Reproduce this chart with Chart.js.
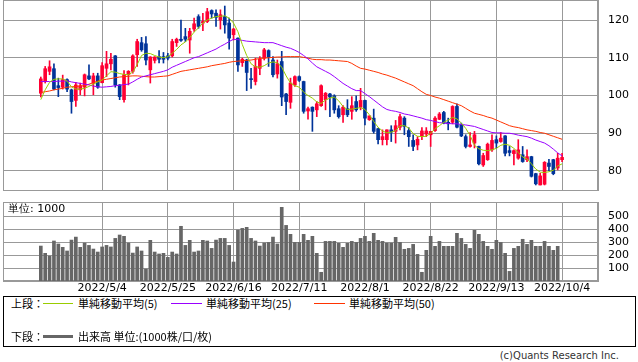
<!DOCTYPE html>
<html>
<head>
<meta charset="utf-8">
<script src="https://cdn.jsdelivr.net/npm/chart.js@4.4.0/dist/chart.umd.min.js"></script>
<style>
  body { margin: 0; background: #fff; width: 638px; height: 362px; position: relative; overflow: hidden; }
  canvas { position: absolute; left: 0; }
  #priceChart { top: 0; }
  #volumeChart { top: 195px; }
  .txt { position: absolute; font-family: "Noto Sans CJK JP", sans-serif; font-size: 11px; line-height: 14px; color: #000; white-space: nowrap; }
  .mark { position: absolute; }
  #legendBox { position: absolute; left: 3px; top: 296px; width: 631px; height: 49px; border: 1px solid #000; }
  #copy { position: absolute; right: 19px; top: 349px; font-family: "DejaVu Sans", sans-serif; font-size: 10px; line-height: 14px; color: #333; }
</style>
</head>
<body>
<canvas id="priceChart" width="638" height="191"></canvas>
<canvas id="volumeChart" width="638" height="100"></canvas>

<div class="txt" style="left:8px; top:202px; font-family:'DejaVu Sans', sans-serif;">単位: 1000</div>

<div id="legendBox"></div>
<div class="txt" style="left:11px; top:296px;">上段：</div>
<div class="mark" style="left:43px; top:303px; width:30px; height:1px; background:#99cc00;"></div>
<div class="txt" style="left:78px; top:296px;">単純移動平均(5)</div>
<div class="mark" style="left:171px; top:303px; width:31px; height:1px; background:#9900ff;"></div>
<div class="txt" style="left:206px; top:296px;">単純移動平均(25)</div>
<div class="mark" style="left:314px; top:303px; width:31px; height:1px; background:#ff3300;"></div>
<div class="txt" style="left:349px; top:296px;">単純移動平均(50)</div>
<div class="txt" style="left:11px; top:329px;">下段：</div>
<div class="mark" style="left:43px; top:335px; width:30px; height:3px; background:#666;"></div>
<div class="txt" style="left:78px; top:329px;">出来高 単位:(1000株/口/枚)</div>
<div id="copy">(c)Quants Research Inc.</div>

<script>
// 4本値 (左から古い順)
const opens = [100.6,103.7,106.4,107.1,102.6,102.2,104.2,101.5,98.7,101.5,
  102.2,105.2,103.3,105.2,103.4,107.2,108.4,110.5,102.8,98.9,
  105.5,106.4,110.8,114.0,113.7,106.8,109.3,110.3,110.3,110.5,
  110.5,114.0,114.9,115.6,114.7,117.6,120.9,119.2,119.6,122.5,
  121.8,120.0,120.9,119.2,116.1,115.2,108.7,109.4,104.4,103.7,
  107.2,109.9,111.9,109.4,105.7,109.0,100.4,98.2,102.8,105.0,
  103.7,95.9,96.9,96.2,97.3,98.9,100.4,99.9,96.5,94.9,
  96.5,95.8,98.4,96.9,98.7,93.6,94.0,91.2,88.3,88.3,
  90.9,90.5,91.6,94.0,90.7,88.1,86.9,89.3,89.8,89.6,
  90.7,93.7,95.5,92.9,92.9,97.1,92.2,89.1,86.5,87.4,
  86.5,81.6,83.0,85.6,88.3,87.8,89.3,85.4,84.6,83.4,
  84.3,83.0,83.8,79.3,76.3,76.5,82.1,83.0,80.8,83.0];
const highs = [104.9,107.7,109.2,108.4,104.6,105.4,104.4,101.7,103.5,103.3,
  105.7,108.1,105.9,105.9,108.7,111.7,111.2,110.6,102.9,106.6,
  106.6,110.8,114.9,115.4,115.6,110.3,110.3,111.9,111.4,111.2,
  114.9,115.2,120.0,117.8,117.8,120.5,121.4,121.8,123.1,122.7,
  122.7,122.7,123.7,120.5,117.8,115.3,109.9,109.6,107.2,109.9,
  110.3,112.5,112.1,110.3,109.4,111.7,100.6,104.6,105.2,105.2,
  103.8,96.9,97.0,98.4,102.8,100.8,100.6,100.2,97.3,97.3,
  98.9,99.7,99.9,101.9,98.8,94.6,96.4,91.4,90.9,90.9,
  92.0,93.4,95.1,94.4,91.5,89.6,89.1,91.5,91.5,90.5,
  94.4,95.5,95.8,94.0,97.3,97.8,92.7,89.6,90.2,90.5,
  86.6,84.7,87.4,89.6,89.3,90.2,89.4,86.5,85.6,88.3,
  86.5,85.6,83.9,79.4,79.4,82.5,83.1,83.1,84.7,84.7];
const lows = [99.6,103.3,105.5,101.5,99.7,101.7,101.0,95.3,97.1,100.2,
  99.9,104.2,100.2,101.9,103.3,105.0,106.8,102.2,98.9,98.2,
  102.8,105.9,107.7,111.7,108.1,103.3,108.6,108.6,108.6,109.4,
  110.2,113.0,114.3,114.3,111.2,117.0,117.8,117.2,119.3,120.5,
  118.3,117.6,116.5,112.3,114.7,106.4,107.7,101.3,101.9,102.8,
  105.5,109.4,107.7,104.9,104.6,97.3,94.9,96.6,102.4,103.7,
  95.3,93.7,90.5,94.4,97.1,96.2,94.4,95.3,94.0,92.9,
  94.4,93.7,95.8,96.2,92.2,93.4,90.0,87.2,86.9,86.9,
  87.8,87.4,90.9,89.6,86.5,85.4,85.6,88.3,89.1,86.5,
  90.5,93.6,92.5,90.9,92.5,91.4,89.1,86.1,86.3,86.1,
  81.6,81.2,82.8,85.2,86.1,87.6,84.0,84.0,81.6,83.1,
  82.3,82.5,78.4,76.3,76.3,76.3,80.1,79.0,80.3,82.5];
const closes = [104.4,107.1,107.6,101.7,102.1,104.2,101.7,98.4,102.8,102.6,
  105.5,104.4,105.2,102.2,107.9,108.4,109.6,102.8,99.7,105.5,
  106.4,110.5,114.3,112.1,109.4,110.2,110.2,109.6,109.6,109.9,
  114.3,114.9,114.6,114.9,117.0,119.0,118.3,119.6,122.2,121.6,
  120.7,121.4,118.7,115.2,117.6,108.1,109.6,106.1,104.2,107.7,
  109.6,112.1,110.2,105.5,108.4,99.6,98.4,103.3,105.0,104.0,
  95.8,96.5,95.8,97.8,102.6,100.6,99.6,96.2,94.4,96.9,
  94.9,97.3,96.2,98.7,94.0,94.6,90.5,88.3,89.1,90.9,
  90.3,92.0,94.4,91.8,89.1,86.5,88.4,90.6,90.6,90.5,
  94.0,95.1,92.7,92.5,97.1,91.6,89.3,86.5,86.9,89.6,
  81.9,84.1,87.1,88.1,87.4,88.7,84.7,84.9,85.4,85.6,
  82.5,83.8,78.6,76.6,78.7,82.3,81.2,79.3,83.4,83.6];

// 単純移動平均
const ma5 = [98.9,101.5,103.5,104.3,104.4,104.4,103.8,102.3,101.7,101.7,
  101.9,102.4,103.0,103.6,104.1,105.2,106.3,106.2,105.8,105.6,
  105.5,106.2,108.2,110.6,111.2,111.1,110.6,110.2,110.0,110.3,
  111.2,112.2,113.4,114.2,115.3,116.8,117.9,119.2,120.0,120.5,
  120.9,121.0,121.1,120.5,119.2,116.9,113.5,110.6,108.4,107.6,
  107.5,107.9,108.6,108.9,108.7,107.5,105.2,103.3,102.6,102.2,
  100.9,100.0,99.3,98.3,97.9,98.8,99.3,99.6,98.6,97.1,
  96.3,96.4,96.6,96.8,96.3,94.9,93.1,91.6,90.6,90.1,
  90.3,90.7,92.0,92.0,91.4,89.9,89.2,89.1,89.2,90.0,
  91.2,92.0,92.9,93.5,94.2,93.8,92.7,91.3,89.4,86.8,
  85.9,85.5,85.4,85.6,86.0,86.8,87.1,86.8,86.0,84.9,
  83.7,83.2,81.9,80.5,79.7,79.6,79.8,80.2,81.3,81.9];
const ma25 = [103.7,103.7,103.7,103.7,103.8,103.8,103.9,103.6,103.4,103.2,
  103.0,102.8,102.5,102.3,102.2,102.3,102.4,102.6,102.7,102.9,
  103.0,103.6,104.3,104.9,105.2,105.5,105.8,106.1,106.4,106.8,
  107.5,108.0,108.5,109.0,109.5,110.0,110.3,110.8,111.3,111.8,
  112.3,113.0,113.6,114.3,114.9,114.8,114.6,114.4,114.3,114.2,
  114.1,114.0,114.0,114.0,113.6,113.2,112.8,112.5,112.0,111.4,
  110.6,109.7,108.6,107.6,107.0,106.4,105.8,105.0,104.1,103.2,
  102.5,101.8,101.3,101.3,100.5,99.7,98.8,97.9,97.0,96.3,
  96.0,95.8,95.5,95.1,94.9,94.6,94.3,94.0,93.6,93.4,
  93.1,92.8,92.7,92.6,92.5,92.5,92.3,92.2,92.0,91.8,
  91.4,91.0,90.6,90.2,90.1,90.1,90.0,90.0,89.8,89.5,
  89.3,89.1,88.7,88.2,87.8,87.4,86.7,85.8,84.8,84.0];
const ma50 = [100.8,101.0,101.2,101.5,101.7,101.9,102.2,102.3,102.4,102.5,
  102.6,103.0,103.4,103.8,104.1,104.3,104.5,104.7,104.9,105.0,
  105.1,105.2,105.2,105.1,105.0,104.9,104.9,105.0,105.1,105.2,
  105.6,106.0,106.4,106.6,106.8,107.0,107.2,107.4,107.6,107.9,
  108.1,108.3,108.5,108.8,109.0,109.1,109.2,109.3,109.4,109.6,
  109.8,109.9,110.0,110.1,110.2,110.2,110.3,110.3,110.3,110.3,
  110.1,109.9,109.6,109.5,109.5,109.4,109.4,109.3,109.2,109.1,
  109.0,108.5,107.8,107.2,107.0,106.7,106.4,106.1,105.7,105.4,
  105.0,104.6,104.1,103.6,103.1,102.6,101.8,101.0,100.3,100.0,
  99.6,99.3,98.9,98.5,98.1,97.7,97.3,96.6,95.9,95.3,
  95.0,94.7,94.3,94.0,93.5,93.0,92.5,92.0,91.7,91.5,
  91.2,90.9,90.7,90.5,90.2,90.0,89.6,89.2,88.8,88.4];

// 出来高 (1000株) 最終日は出来高なし
const volumes = [269,213,192,308,285,259,231,315,338,259,
  292,274,246,223,262,274,262,328,354,344,
  292,215,262,231,92,313,223,208,213,182,
  223,208,421,274,313,223,231,313,308,251,
  315,328,328,274,146,392,405,413,328,308,
  269,292,297,338,285,567,428,359,297,297,
  359,313,344,213,67,305,305,305,290,259,
  290,305,297,328,344,305,367,313,305,292,
  292,336,297,244,251,282,205,67,236,344,
  267,305,267,267,267,367,328,282,251,390,
  359,305,267,244,313,297,213,74,251,267,
  321,282,313,267,267,305,267,236,267];

const dateLabels = ['2022/5/4', '2022/5/25', '2022/6/16', '2022/7/11', '2022/8/1', '2022/8/22', '2022/9/13', '2022/10/4'];
const dateIndex = [14, 29, 44, 59, 74, 89, 104, 119];
const priceTicks = [80, 90, 100, 110, 120];
const volumeTicks = [100, 200, 300, 400, 500];

const UP = '#ff0033';
const DOWN = '#003399';
const GRID = '#999999';
const X_MIN = -8.63;
const X_MAX = 127.2;

const candleColors = closes.map((c, i) => c >= opens[i] ? UP : DOWN);
const wickData = highs.map((h, i) => ({ x: i, y: [lows[i], h] }));
const bodyData = closes.map((c, i) => ({ x: i, y: [opens[i], c] }));
const linePoints = arr => arr.map((v, i) => ({ x: i, y: v }));

// 枠線
const framePlugin = {
  id: 'frame',
  beforeDatasetsDraw(chart) {
    const { ctx, chartArea: a } = chart;
    ctx.save();
    ctx.strokeStyle = GRID;
    ctx.lineWidth = 1;
    ctx.strokeRect(Math.round(a.left) + 0.5, Math.round(a.top) + 0.5,
      Math.round(a.right - a.left) - 1, Math.round(a.bottom - a.top) - 1);
    ctx.restore();
  }
};

const tickFont = { family: 'DejaVu Sans', size: 11 };

function xScale(showLabels) {
  return {
    type: 'linear',
    min: X_MIN,
    max: X_MAX,
    offset: false,
    afterBuildTicks: s => { s.ticks = dateIndex.map(v => ({ value: v })); },
    afterFit: s => {
      s.height = showLabels ? 14 : 0;
      s.paddingLeft = 0;
      s.paddingRight = 0;
    },
    ticks: {
      display: showLabels,
      maxRotation: 0,
      autoSkip: false,
      padding: 1,
      color: '#000',
      font: tickFont,
      callback: (v) => dateLabels[dateIndex.indexOf(v)]
    },
    grid: { color: GRID, drawTicks: false, offset: false },
    border: { color: GRID }
  };
}

function yScale(min, max, ticks) {
  return {
    position: 'right',
    min: min,
    max: max,
    afterBuildTicks: s => { s.ticks = ticks.map(v => ({ value: v })); },
    afterFit: s => {
      s.width = 40;
      s.paddingTop = 0;
      s.paddingBottom = 0;
    },
    ticks: { padding: 10, color: '#000', font: tickFont },
    grid: { color: GRID, drawTicks: false },
    border: { color: GRID }
  };
}

new Chart(document.getElementById('priceChart'), {
  data: {
    datasets: [
      { type: 'line', data: linePoints(ma5), borderColor: '#99cc00', borderWidth: 1, pointRadius: 0, order: 0 },
      { type: 'line', data: linePoints(ma25), borderColor: '#9900ff', borderWidth: 1, pointRadius: 0, order: 0 },
      { type: 'line', data: linePoints(ma50), borderColor: '#ff3300', borderWidth: 1, pointRadius: 0, order: 0 },
      { type: 'bar', data: bodyData, backgroundColor: candleColors, barThickness: 3, minBarLength: 1, grouped: false, order: 1 },
      { type: 'bar', data: wickData, backgroundColor: candleColors, barThickness: 1, grouped: false, order: 2 }
    ]
  },
  options: {
    responsive: false,
    animation: false,
    layout: { padding: { left: 3, top: 0, right: 0, bottom: 0 } },
    plugins: { legend: { display: false }, tooltip: { enabled: false } },
    scales: {
      x: xScale(false),
      y: yScale(74.7, 125.3, priceTicks)
    }
  },
  plugins: [framePlugin]
});

new Chart(document.getElementById('volumeChart'), {
  type: 'bar',
  data: {
    datasets: [{
      data: volumes.map((v, i) => ({ x: i, y: v })),
      backgroundColor: '#666666',
      barThickness: 3
    }]
  },
  options: {
    responsive: false,
    animation: false,
    layout: { padding: { left: 3, top: 7, right: 0, bottom: 0 } },
    plugins: { legend: { display: false }, tooltip: { enabled: false } },
    scales: {
      x: xScale(true),
      y: yScale(0, 608, volumeTicks)
    }
  },
  plugins: [framePlugin]
});
</script>
</body>
</html>
